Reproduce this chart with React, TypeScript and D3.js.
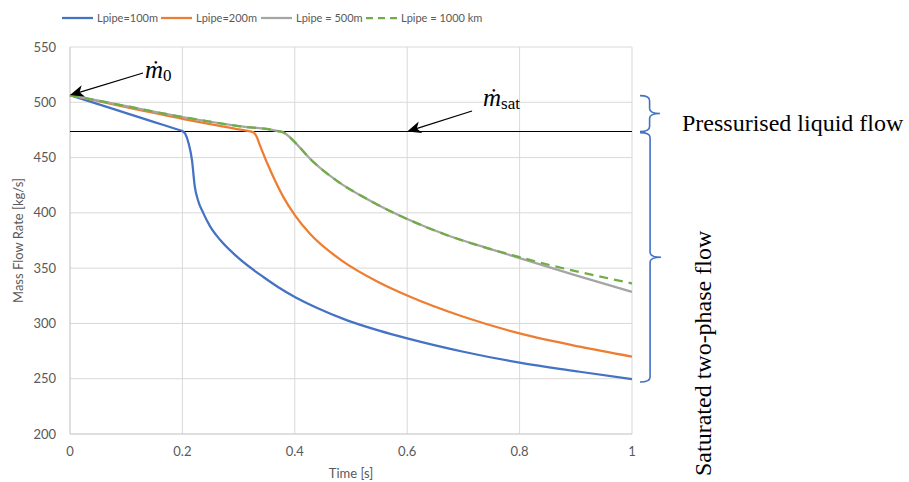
import * as React from 'react';
import * as d3 from 'd3';

// time [s] and mass flow rate [kg/s]
const t100 = [0, 0.05, 0.1, 0.15, 0.19, 0.2, 0.205, 0.211, 0.217, 0.222, 0.228, 0.237, 0.249, 0.267, 0.297, 0.344, 0.37, 0.4, 0.44, 0.492, 0.55, 0.6, 0.7, 0.8, 0.907, 1.0];
const m100 = [506.5, 498.3, 490.2, 482.1, 475.6, 474, 471.5, 463, 448, 424, 411, 400, 388, 375.6, 360.4, 342, 333, 324, 314, 303, 293.5, 286.5, 274.4, 264.5, 256.3, 249.6];

const t200 = [0, 0.1, 0.2, 0.3, 0.326, 0.332, 0.338, 0.35, 0.365, 0.38, 0.4, 0.427, 0.483, 0.55, 0.601, 0.7, 0.8, 0.907, 1.0];
const m200 = [506.5, 495.5, 485, 475.5, 473, 469, 461, 446, 429, 414, 398, 381, 357, 337, 325, 306, 291, 279, 270];

const t500 = [0, 0.1, 0.2, 0.3, 0.37, 0.38, 0.39, 0.4, 0.427, 0.475, 0.534, 0.602, 0.67, 0.75, 0.8, 0.9, 1.0];
const m500 = [506.5, 496.5, 486.7, 478.5, 474, 472.7, 469, 464, 449, 429, 411, 394, 380, 367, 359, 343.5, 328.5];

const t1000 = [0, 0.1, 0.2, 0.3, 0.37, 0.38, 0.39, 0.4, 0.427, 0.475, 0.534, 0.602, 0.67, 0.75, 0.8, 0.86, 0.907, 0.988, 1.0];
const m1000 = [506.5, 496.5, 486.7, 478.5, 474, 472.7, 469, 464, 449, 429, 411, 394, 380, 367, 360, 352, 346.5, 337.5, 336.2];

const seriesNames = ['Lpipe=100m', 'Lpipe=200m', 'Lpipe = 500m', 'Lpipe = 1000 km'];
const seriesColors = ['#4472C4', '#ED7D31', '#A5A5A5', '#70AD47'];

const xTicks = [0, 0.2, 0.4, 0.6, 0.8, 1];
const yTicks = [200, 250, 300, 350, 400, 450, 500, 550];

const mSat = 473.6;
const mZero = 506.5;

const W = 909;
const H = 482;

const labelFont = "Lato, 'Open Sans', sans-serif";
const serifFont = "'Liberation Serif', 'DejaVu Serif', serif";

function bracePath(x0: number, y1: number, y2: number, w: number) {
  const xm = x0 + w * 0.48;
  const ym = (y1 + y2) / 2;
  const q = 5;
  const p = d3.path();
  p.moveTo(x0, y1);
  p.quadraticCurveTo(xm, y1, xm, y1 + q);
  p.lineTo(xm, ym - q);
  p.quadraticCurveTo(xm, ym, x0 + w, ym);
  p.quadraticCurveTo(xm, ym, xm, ym + q);
  p.lineTo(xm, y2 - q);
  p.quadraticCurveTo(xm, y2, x0, y2);
  return p.toString();
}

function Arrow({ x1, y1, x2, y2 }: { x1: number; y1: number; x2: number; y2: number }) {
  const r = Math.atan2(y2 - y1, x2 - x1);
  const a = r * 180 / Math.PI;
  return (
    <g>
      <line x1={x1} y1={y1} x2={x2 - 8 * Math.cos(r)} y2={y2 - 8 * Math.sin(r)} stroke="#000" strokeWidth={1.3} />
      <path d="M0,0 L-14,-6 L-10,0 L-14,6 Z" fill="#000" transform={`translate(${x2},${y2}) rotate(${a})`} />
    </g>
  );
}

export default function App() {
  const margin = { top: 47, right: 277, bottom: 48, left: 70 };
  const x = d3.scaleLinear().domain([0, 1]).range([margin.left, W - margin.right]);
  const y = d3.scaleLinear().domain([200, 550]).range([H - margin.bottom, margin.top]);

  const series = [
    { t: t100, m: m100 },
    { t: t200, m: m200 },
    { t: t500, m: m500 },
    { t: t1000, m: m1000 },
  ];

  const line = d3.line<[number, number]>()
    .x(d => x(d[0]))
    .y(d => y(d[1]))
    .curve(d3.curveMonotoneX);

  const legendX = [62, 161, 261, 366];

  return (
    <svg width={W} height={H} style={{ position: 'absolute', left: 0, top: 0, background: '#fff' }}>
      {/* grid */}
      {yTicks.slice(1).map(v => (
        <line key={'gy' + v} x1={x(0)} x2={x(1)} y1={y(v)} y2={y(v)} stroke="#D9D9D9" strokeWidth={1} />
      ))}
      {xTicks.slice(1).map(v => (
        <line key={'gx' + v} x1={x(v)} x2={x(v)} y1={y(200)} y2={y(550)} stroke="#D9D9D9" strokeWidth={1} />
      ))}
      <line x1={x(0)} x2={x(0)} y1={y(200)} y2={y(550)} stroke="#BFBFBF" strokeWidth={1} />
      <line x1={x(0)} x2={x(1)} y1={y(200)} y2={y(200)} stroke="#BFBFBF" strokeWidth={1} />

      {/* tick labels */}
      {yTicks.map(v => (
        <text key={'ly' + v} x={x(0) - 14} y={y(v)} dy="0.35em" textAnchor="end" fontFamily={labelFont} fontSize={13} fill="#595959">{v}</text>
      ))}
      {xTicks.map(v => (
        <text key={'lx' + v} x={x(v)} y={y(200) + 22} textAnchor="middle" fontFamily={labelFont} fontSize={13} fill="#595959">{v}</text>
      ))}
      <text x={(x(0) + x(1)) / 2} y={H - 4} textAnchor="middle" fontFamily={labelFont} fontSize={13} fill="#595959">Time [s]</text>
      <text transform={`translate(23,${(y(200) + y(550)) / 2}) rotate(-90)`} textAnchor="middle" fontFamily={labelFont} fontSize={13} fill="#595959">Mass Flow Rate [kg/s]</text>

      {/* saturation line */}
      <line x1={x(0)} x2={x(1)} y1={y(mSat)} y2={y(mSat)} stroke="#000" strokeWidth={1.2} />

      {/* series */}
      {series.map((s, i) => (
        <path key={'s' + i}
          d={line(s.t.map((tv, j) => [tv, s.m[j]] as [number, number])) || ''}
          fill="none" stroke={seriesColors[i]} strokeWidth={2.25}
          strokeDasharray={i === 3 ? '9,6' : undefined} />
      ))}

      {/* legend */}
      {seriesNames.map((n, i) => (
        <g key={'lg' + i}>
          <line x1={legendX[i]} x2={legendX[i] + 31} y1={18} y2={18} stroke={seriesColors[i]} strokeWidth={2.25} strokeDasharray={i === 3 ? '7,5' : undefined} />
          <text x={legendX[i] + 35} y={18} dy="0.35em" fontFamily={labelFont} fontSize={11} fill="#595959">{n}</text>
        </g>
      ))}

      {/* annotations */}
      <Arrow x1={143} y1={73} x2={x(0)} y2={y(mZero)} />
      <text x={145} y={78} fontFamily={serifFont} fontSize={25} fontStyle="italic" fill="#000">ṁ<tspan fontStyle="normal" fontSize={17} dy={3}>0</tspan></text>

      <Arrow x1={472} y1={111} x2={x(0.6)} y2={y(mSat)} />
      <text x={483} y={106} fontFamily={serifFont} fontSize={25} fontStyle="italic" fill="#000">ṁ<tspan fontStyle="normal" fontSize={17} dy={3}>sat</tspan></text>

      <path d={bracePath(640, y(506), y(mSat), 20)} fill="none" stroke="#4472C4" strokeWidth={1.6} />
      <path d={bracePath(640, y(472.6), y(247), 21)} fill="none" stroke="#4472C4" strokeWidth={1.6} />

      <text x={682} y={131} fontFamily={serifFont} fontSize={24} fill="#000">Pressurised liquid flow</text>
      <text transform={`translate(711,${476}) rotate(-90)`} fontFamily={serifFont} fontSize={24} fill="#000">Saturated two-phase flow</text>
    </svg>
  );
}
